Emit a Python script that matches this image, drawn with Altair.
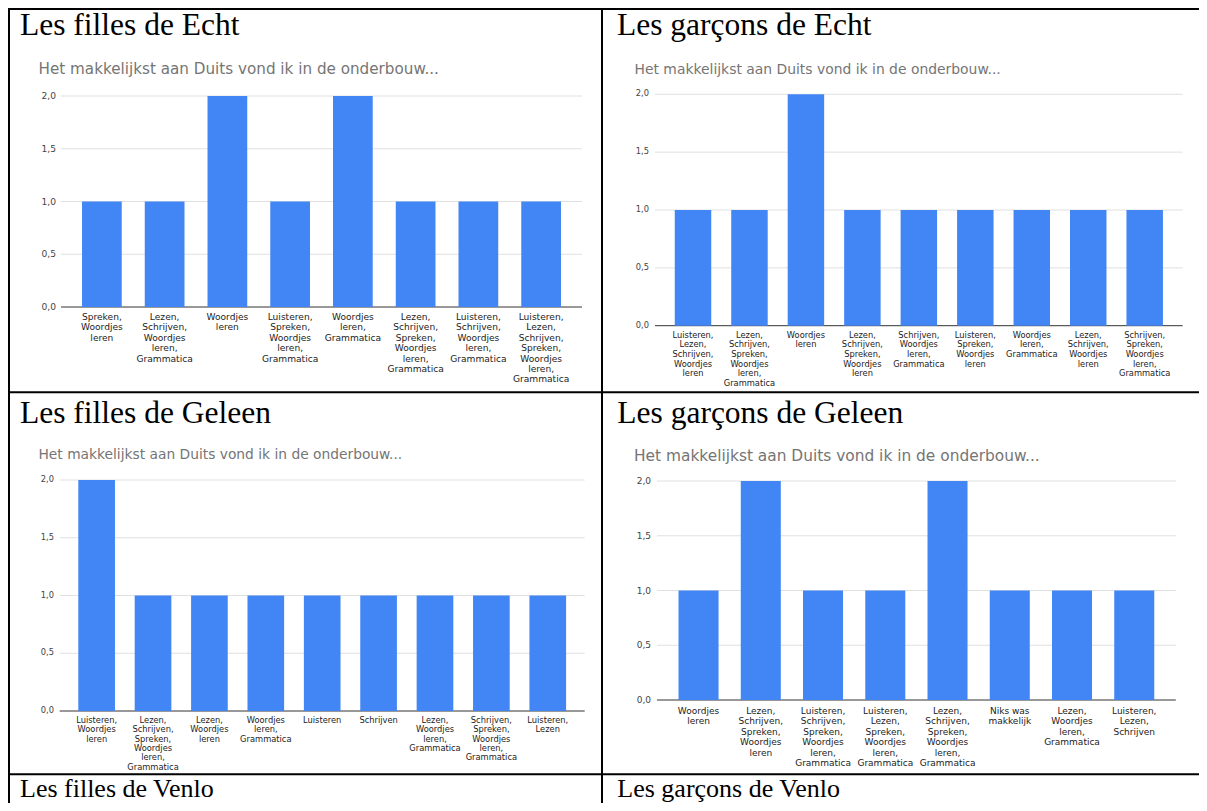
import altair as alt
import pandas as pd

W, H = 1191, 795
BLUE = "#4285F4"
SANS = "DejaVu Sans"
SERIF = "Liberation Serif"
SUBTITLE = "Het makkelijkst aan Duits vond ik in de onderbouw..."

titles = ["Les filles de Echt", "Les garçons de Echt", "Les filles de Geleen",
          "Les garçons de Geleen", "Les filles de Venlo", "Les garçons de Venlo"]

echt_f_cats = ["Spreken,\nWoordjes\nleren",
               "Lezen,\nSchrijven,\nWoordjes\nleren,\nGrammatica",
               "Woordjes\nleren",
               "Luisteren,\nSpreken,\nWoordjes\nleren,\nGrammatica",
               "Woordjes\nleren,\nGrammatica",
               "Lezen,\nSchrijven,\nSpreken,\nWoordjes\nleren,\nGrammatica",
               "Luisteren,\nSchrijven,\nWoordjes\nleren,\nGrammatica",
               "Luisteren,\nLezen,\nSchrijven,\nSpreken,\nWoordjes\nleren,\nGrammatica"]
echt_f_vals = [1, 1, 2, 1, 2, 1, 1, 1]

echt_m_cats = ["Luisteren,\nLezen,\nSchrijven,\nWoordjes\nleren",
               "Lezen,\nSchrijven,\nSpreken,\nWoordjes\nleren,\nGrammatica",
               "Woordjes\nleren",
               "Lezen,\nSchrijven,\nSpreken,\nWoordjes\nleren",
               "Schrijven,\nWoordjes\nleren,\nGrammatica",
               "Luisteren,\nSpreken,\nWoordjes\nleren",
               "Woordjes\nleren,\nGrammatica",
               "Lezen,\nSchrijven,\nWoordjes\nleren",
               "Schrijven,\nSpreken,\nWoordjes\nleren,\nGrammatica"]
echt_m_vals = [1, 1, 2, 1, 1, 1, 1, 1, 1]

geleen_f_cats = ["Luisteren,\nWoordjes\nleren",
                 "Lezen,\nSchrijven,\nSpreken,\nWoordjes\nleren,\nGrammatica",
                 "Lezen,\nWoordjes\nleren",
                 "Woordjes\nleren,\nGrammatica",
                 "Luisteren",
                 "Schrijven",
                 "Lezen,\nWoordjes\nleren,\nGrammatica",
                 "Schrijven,\nSpreken,\nWoordjes\nleren,\nGrammatica",
                 "Luisteren,\nLezen"]
geleen_f_vals = [2, 1, 1, 1, 1, 1, 1, 1, 1]

geleen_m_cats = ["Woordjes\nleren",
                 "Lezen,\nSchrijven,\nSpreken,\nWoordjes\nleren",
                 "Luisteren,\nSchrijven,\nSpreken,\nWoordjes\nleren,\nGrammatica",
                 "Luisteren,\nLezen,\nSpreken,\nWoordjes\nleren,\nGrammatica",
                 "Lezen,\nSchrijven,\nSpreken,\nWoordjes\nleren,\nGrammatica",
                 "Niks was\nmakkelijk",
                 "Lezen,\nWoordjes\nleren,\nGrammatica",
                 "Luisteren,\nLezen,\nSchrijven"]
geleen_m_vals = [1, 2, 1, 1, 2, 1, 1, 1]

y_ticks = [0, 0.5, 1, 1.5, 2]
y_tick_labels = ["0,0", "0,5", "1,0", "1,5", "2,0"]


def text_at(txt, x, y, **kw):
    return alt.Chart(pd.DataFrame({"t": [txt]})).mark_text(
        align="left", baseline="alphabetic", **kw
    ).encode(x=alt.value(x), y=alt.value(y), text="t:N")


def panel(cats, vals, title, tpos, spos, sfs, xr, yr, pi, po, lab_y, lab_fs, lab_lh, ylab_x):
    df = pd.DataFrame({"cat": cats, "val": vals})
    xs = alt.Scale(domain=cats, range=xr, paddingInner=pi, paddingOuter=po)
    ys = alt.Scale(domain=[0, 2], range=yr, nice=False, zero=True)
    tick_df = pd.DataFrame({"v": y_ticks, "lab": y_tick_labels})

    gridlines = alt.Chart(tick_df).transform_filter("datum.v > 0").mark_rule(
        color="#e0e0e0", strokeWidth=1
    ).encode(y=alt.Y("v:Q", scale=ys, axis=None),
             x=alt.value(xr[0]), x2=alt.value(xr[1]))
    ylabels = alt.Chart(tick_df).mark_text(
        align="right", baseline="middle", font=SANS, fontSize=lab_fs, color="#444444"
    ).encode(y=alt.Y("v:Q", scale=ys, axis=None), x=alt.value(ylab_x), text="lab:N")
    bars = alt.Chart(df).mark_bar(color=BLUE).encode(
        x=alt.X("cat:N", scale=xs, axis=None, sort=cats),
        y=alt.Y("val:Q", scale=ys, axis=None),
    )
    base = alt.Chart(pd.DataFrame({"v": [0]})).mark_rule(
        color="#333333", strokeWidth=1
    ).encode(y=alt.Y("v:Q", scale=ys, axis=None),
             x=alt.value(xr[0]), x2=alt.value(xr[1]))
    xlabels = alt.Chart(df).mark_text(
        align="center", baseline="top", lineBreak="\n", lineHeight=lab_lh,
        font=SANS, fontSize=lab_fs, color="#222222"
    ).encode(x=alt.X("cat:N", scale=xs, axis=None, sort=cats),
             y=alt.value(lab_y), text="cat:N")
    ttl = text_at(title, tpos[0], tpos[1], font=SERIF, fontSize=31.5, color="#000000")
    sub = text_at(SUBTITLE, spos[0], spos[1], font=SANS, fontSize=sfs, color="#757575")
    return alt.layer(gridlines, base, bars, ylabels, xlabels, ttl, sub)


pA = panel(echt_f_cats, echt_f_vals, titles[0], (12, 27), (30.5, 66), 15.2,
           [53, 574], [299, 88], 0.367, 0.335, 305, 9.1, 10.4, 48)
pB = panel(echt_m_cats, echt_m_vals, titles[1], (609, 27), (626.5, 66), 13.9,
           [647, 1174.7], [317.7, 86.3], 0.354, 0.35, 322.7, 8.3, 9.7, 641)
pC = panel(geleen_f_cats, geleen_f_vals, titles[2], (12, 415.3), (30.5, 451), 13.8,
           [51.7, 576.7], [703, 472], 0.35, 0.33, 708, 8.3, 9.3, 46)
pD = panel(geleen_m_cats, geleen_m_vals, titles[3], (609.3, 414.7), (626, 452.7), 15.4,
           [649, 1167.8], [692, 473], 0.357, 0.346, 698.5, 9.0, 10.5, 643)

tE = text_at(titles[4], 12, 789, font=SERIF, fontSize=26, color="#000000")
tF = text_at(titles[5], 609.3, 789, font=SERIF, fontSize=26, color="#000000")

dummy = pd.DataFrame({"d": [0]})


def hline(y):
    return alt.Chart(dummy).mark_rule(color="#000000", strokeWidth=2).encode(
        x=alt.value(0), x2=alt.value(W), y=alt.value(y))


def vline(x):
    return alt.Chart(dummy).mark_rule(color="#000000", strokeWidth=2).encode(
        x=alt.value(x), y=alt.value(0), y2=alt.value(H))


chart = alt.layer(
    pA, pB, pC, pD, tE, tF,
    hline(1), hline(384.3), hline(766.3),
    vline(1), vline(594),
).resolve_scale(x="independent", y="independent").properties(
    width=W, height=H, autosize=alt.AutoSizeParams(type="none"), padding=0
).configure_view(stroke=None)

chart.save("out.html", embed_options={"renderer": "svg", "actions": False})
